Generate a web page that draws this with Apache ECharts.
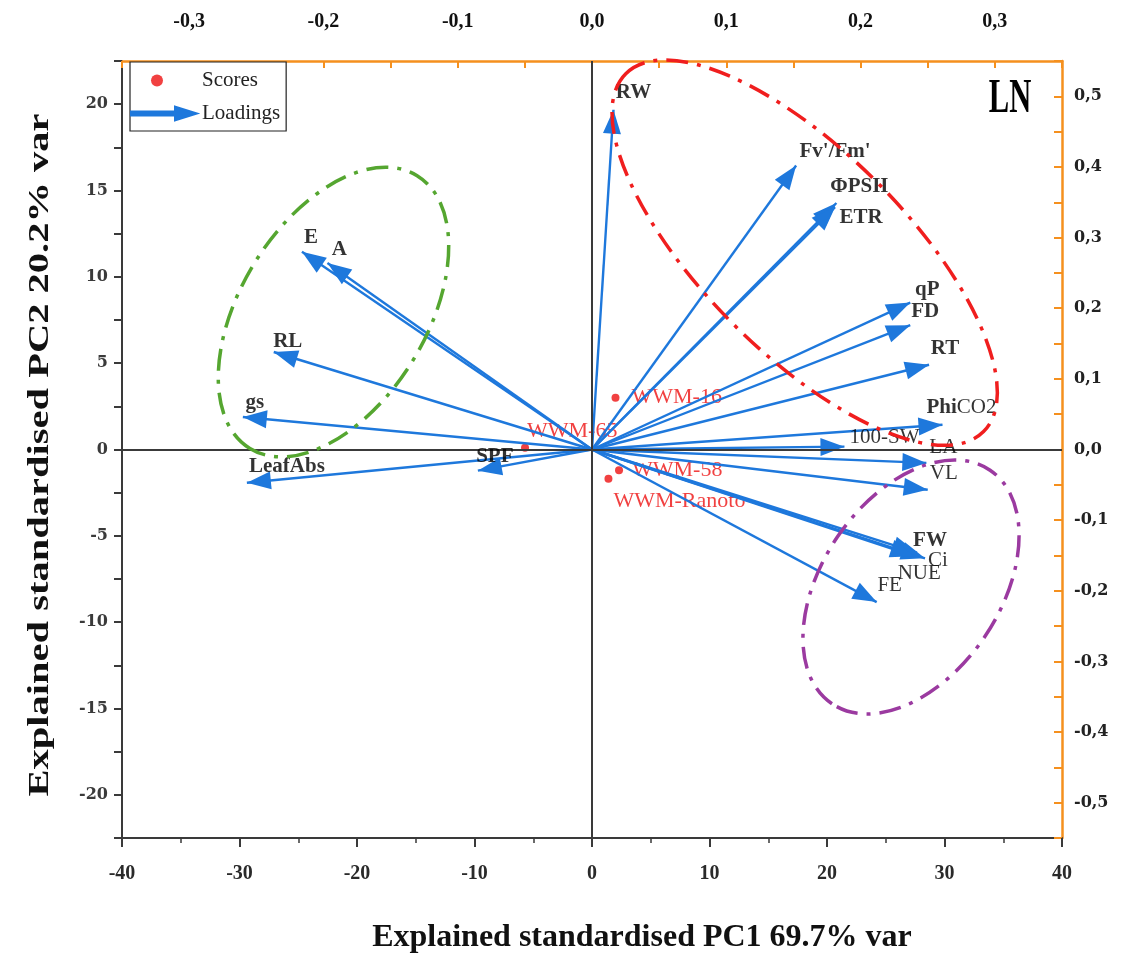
<!DOCTYPE html>
<html>
<head>
<meta charset="utf-8">
<title>PCA biplot LN</title>
<script src="https://cdn.jsdelivr.net/npm/echarts@6/dist/echarts.min.js"></script>
<style>
  html, body { margin: 0; padding: 0; background: #fff; }
  #chart { width: 1121px; height: 955px; }
</style>
</head>
<body>
<div id="chart"></div>
<script>
  // scores, in standardised PC units (bottom / left axes)
  const scoreNames = ['WWM-16', 'WWM-65', 'WWM-58', 'WWM-Ranoto']
  const scorePC1 = [2.0, -5.7, 2.3, 1.4]
  const scorePC2 = [3.0, 0.1, -1.2, -1.7]

  // loadings (top / right axes)
  const loadingNames = ['RW', "Fv'/Fm'", 'ΦPSII', 'ETR', 'qP', 'FD', 'RT', 'PhiCO2', '100-SW', 'LA', 'VL',
    'FW', 'Ci', 'NUE', 'FE', 'E', 'A', 'RL', 'gs', 'LeafAbs', 'SPF']
  const loadingPC1 = [0.016, 0.152, 0.182, 0.181, 0.237, 0.237, 0.251, 0.261, 0.188, 0.249, 0.250,
    0.242, 0.248, 0.240, 0.212, -0.216, -0.197, -0.237, -0.260, -0.257, -0.085]
  const loadingPC2 = [0.481, 0.402, 0.349, 0.343, 0.208, 0.176, 0.120, 0.035, 0.004, -0.019, -0.057,
    -0.146, -0.154, -0.151, -0.216, 0.280, 0.264, 0.138, 0.046, -0.047, -0.030]

  // label placement (px, relative to the arrow tip / point)
  const loadingLabelOffset = {
    'RW': [20, -17], "Fv'/Fm'": [39, -14], 'ΦPSII': [23, -16], 'ETR': [26, 10], 'qP': [17, -13],
    'FD': [15, -14], 'RT': [16, -16], 'PhiCO2': [19, -17], '100-SW': [40, -9], 'LA': [17, -15],
    'VL': [16, -16], 'FW': [13, -12], 'Ci': [13, 2], 'NUE': [5, 17], 'FE': [13, -17],
    'E': [9, -14], 'A': [12, -13], 'RL': [14, -10], 'gs': [12, -14], 'LeafAbs': [40, -16], 'SPF': [17, -14]
  }
  const normalLabels = ['100-SW', 'LA', 'VL', 'Ci', 'NUE', 'FE']
  const scoreLabelOffset = [[0, 0], [-14, -17], [-3, 0], [-11, 22]]

  // group outlines drawn on top (centre in PC units, radii in px)
  const groupEllipses = [
    { center: [18.1, 11.4], rx: 253, ry: 101, angle: -45, color: '#f01e1e' },
    { center: [-22.0, 7.96], rx: 160, ry: 93, angle: 58.5, color: '#55a630' },
    { center: [27.15, -7.96], rx: 141, ry: 89, angle: 55.9, color: '#9b3aa0' }
  ]

  const serif = 'Liberation Serif'
  const orange = '#f5901e'
  const dark = '#3a3a3a'
  const blue = '#1e78dc'
  const red = '#ee1111'

  const isStep = (v, step) => Math.abs(Math.round(v / step) * step - v) < 1e-6
  const commaLabel = v => isStep(v, 0.1) ? (Math.round(v * 10) / 10).toFixed(1).replace('.', ',') : ''

  // triangle head, tip sits at the centre of the symbol box
  const arrowHead = 'path://M0,24L9,48L-9,48ZM-24,0M24,0'

  const option = {
    backgroundColor: '#fff',
    animation: false,
    textStyle: { fontFamily: serif },
    grid: { left: 122, right: 59, top: 61, bottom: 117, outerBoundsMode: 'none' },
    legend: {
      left: 130,
      top: 62,
      orient: 'vertical',
      backgroundColor: '#fff',
      borderColor: '#222',
      borderWidth: 1.2,
      borderRadius: 0,
      padding: [8, 6, 7, 0],
      itemGap: 12,
      itemWidth: 66,
      itemHeight: 14,
      selectedMode: false,
      textStyle: { fontFamily: serif, fontSize: 21, color: '#222' },
      data: [
        { name: 'Scores', icon: 'path://M20,7a6,6 0 1,0 12,0a6,6 0 1,0 -12,0ZM0,0M66,14', itemStyle: { color: red } },
        { name: 'Loadings', icon: 'path://M0,5L44,5L44,0L66,7L44,14L44,9L0,9Z', itemStyle: { color: blue } }
      ]
    },
    xAxis: [{
      type: 'value',
      position: 'bottom',
      min: -40,
      max: 40,
      interval: 10,
      axisLine: { onZero: false, lineStyle: { color: dark, width: 2 } },
      axisTick: { length: 9, lineStyle: { color: dark, width: 2 } },
      minorTick: { show: true, splitNumber: 2, length: 5, lineStyle: { color: dark, width: 1.5 } },
      splitLine: { show: false },
      minorSplitLine: { show: false },
      axisLabel: { margin: 26, color: '#2a2a2a', fontSize: 20, fontWeight: 'bold', fontFamily: serif },
      name: 'Explained standardised PC1 69.7% var',
      nameLocation: 'middle',
      nameGap: 84,
      nameMoveOverlap: false,
      nameTextStyle: { fontSize: 32, fontWeight: 'bold', color: '#111', fontFamily: serif, padding: [0, 0, 0, 100] }
    }, {
      type: 'value',
      position: 'top',
      min: -0.35,
      max: 0.35,
      interval: 0.05,
      axisLine: { onZero: false, lineStyle: { color: orange, width: 2.5 } },
      axisTick: { inside: true, length: 7, lineStyle: { color: orange, width: 2 } },
      splitLine: { show: false },
      axisLabel: { margin: 29, color: '#111', fontSize: 20, fontWeight: 'bold', fontFamily: serif, formatter: commaLabel }
    }],
    yAxis: [{
      type: 'value',
      position: 'left',
      min: -22.5,
      max: 22.5,
      interval: 2.5,
      axisLine: { onZero: false, lineStyle: { color: dark, width: 2 } },
      axisTick: { length: 8, lineStyle: { color: dark, width: 2 } },
      splitLine: { show: false },
      axisLabel: {
        margin: 14, color: '#3a3a3a', fontSize: 16, fontWeight: 'bold', fontFamily: 'DejaVu Serif',
        formatter: v => isStep(v, 5) ? String(Math.round(v)) : ''
      }
    }, {
      type: 'value',
      position: 'right',
      min: -0.55,
      max: 0.55,
      interval: 0.05,
      axisLine: { onZero: false, lineStyle: { color: orange, width: 2.5 } },
      axisTick: { inside: true, length: 8, lineStyle: { color: orange, width: 2 } },
      splitLine: { show: false },
      axisLabel: { margin: 12, color: '#222', fontSize: 16, fontWeight: 'bold', fontFamily: 'DejaVu Serif', formatter: commaLabel }
    }],
    series: [{
      name: 'Scores',
      type: 'scatter',
      xAxisIndex: 0,
      yAxisIndex: 0,
      z: 2,
      symbolSize: 8,
      itemStyle: { color: red },
      label: { show: true, position: 'right', distance: 12, color: red, fontSize: 22, fontFamily: serif, formatter: '{b}' },
      data: scoreNames.map((n, i) => ({
        name: n,
        value: [scorePC1[i], scorePC2[i]],
        label: { offset: scoreLabelOffset[i] }
      })),
      markLine: {
        silent: true,
        animation: false,
        symbol: ['none', 'none'],
        label: { show: false },
        lineStyle: { color: dark, width: 2, type: 'solid' },
        data: [{ xAxis: 0 }, { yAxis: 0 }]
      }
    }, {
      name: 'Loadings',
      type: 'lines',
      coordinateSystem: 'cartesian2d',
      xAxisIndex: 1,
      yAxisIndex: 1,
      z: 3,
      silent: true,
      symbol: ['none', arrowHead],
      symbolSize: [0, 48],
      lineStyle: { color: blue, width: 2.4, opacity: 1, curveness: 0 },
      data: loadingNames.map((n, i) => ({ name: n, coords: [[0, 0], [loadingPC1[i], loadingPC2[i]]] }))
    }, {
      name: 'loadingLabels',
      type: 'scatter',
      xAxisIndex: 1,
      yAxisIndex: 1,
      z: 6,
      silent: true,
      symbolSize: 1,
      itemStyle: { color: 'rgba(0,0,0,0)' },
      label: {
        show: true,
        position: 'inside',
        color: '#000',
        fontSize: 21,
        fontFamily: serif,
        formatter: p => p.name === 'PhiCO2' ? '{b|Phi}{n|CO2}'
          : (normalLabels.includes(p.name) ? '{n|' + p.name + '}' : '{b|' + p.name + '}'),
        rich: {
          b: { fontWeight: 'bold', fontSize: 21, fontFamily: serif, color: '#000' },
          n: { fontWeight: 'normal', fontSize: 21, fontFamily: serif, color: '#000' }
        }
      },
      data: loadingNames.map((n, i) => ({
        name: n,
        value: [loadingPC1[i], loadingPC2[i]],
        label: { offset: loadingLabelOffset[n] }
      }))
    }]
  }

  const chart = echarts.init(document.getElementById('chart'))
  chart.setOption(option)

  const ellipseShapes = groupEllipses.map((e, i) => {
    const p = chart.convertToPixel({ xAxisIndex: 0, yAxisIndex: 0 }, e.center)
    return {
      id: 'group' + i,
      type: 'ellipse',
      x: p[0],
      y: p[1],
      rotation: e.angle * Math.PI / 180,
      shape: { cx: 0, cy: 0, rx: e.rx, ry: e.ry },
      style: { fill: 'none', stroke: e.color, lineWidth: 3.5, lineDash: [22, 9, 4, 9] },
      silent: true,
      z: 10
    }
  })

  chart.setOption({
    graphic: ellipseShapes.concat([{
      id: 'ytitle',
      type: 'text',
      x: 40,
      y: 455,
      rotation: Math.PI / 2,
      scaleX: 1.35,
      silent: true,
      style: {
        text: 'Explained standardised PC2 20.2% var',
        font: 'bold 30px "Liberation Serif"',
        fill: '#111',
        textAlign: 'center',
        textVerticalAlign: 'middle',
        align: 'center',
        verticalAlign: 'middle'
      }
    }, {
      id: 'panel',
      type: 'text',
      x: 1010,
      y: 100,
      scaleX: 0.9,
      scaleY: 1.4,
      silent: true,
      style: {
        text: 'LN',
        font: 'bold 34px "Liberation Serif"',
        fill: '#000',
        textAlign: 'center',
        textVerticalAlign: 'middle',
        align: 'center',
        verticalAlign: 'middle'
      }
    }])
  })
</script>
</body>
</html>
